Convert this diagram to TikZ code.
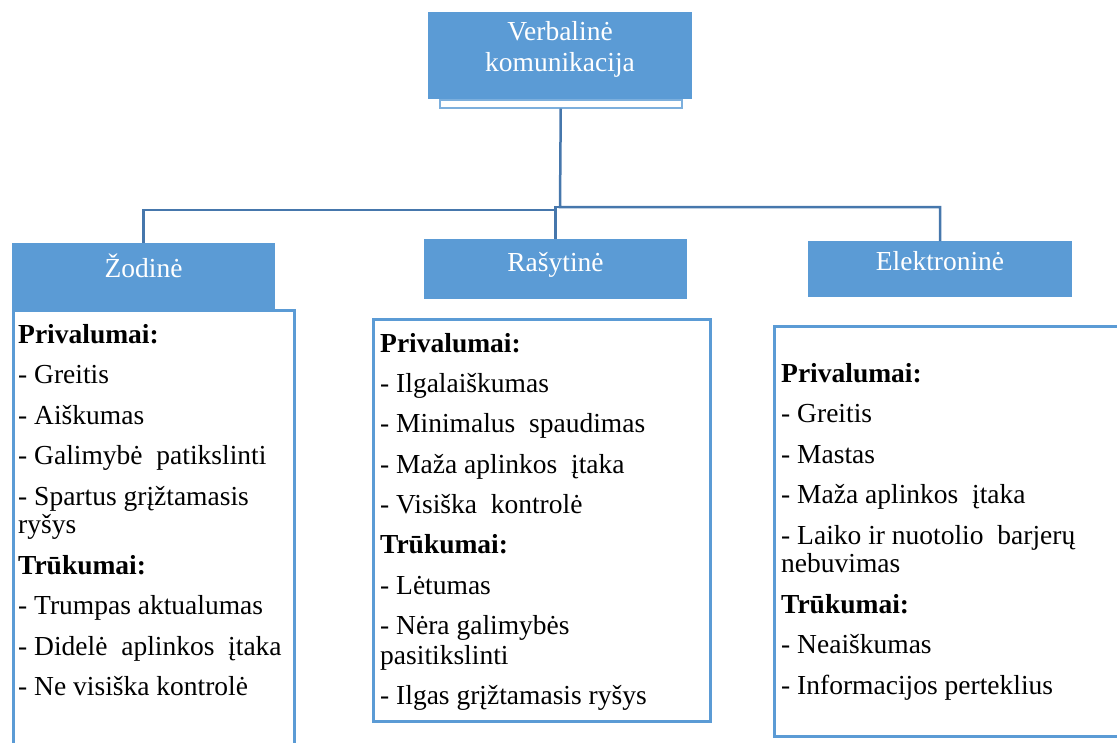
\documentclass[tikz,border=0pt]{standalone}
\usepackage{fontspec}
\setmainfont{Liberation Serif}
\definecolor{accent}{HTML}{5B9BD5}
\definecolor{connc}{HTML}{4677AC}
\tikzset{
  bluebox/.style={fill=accent, draw=none, inner sep=0pt, anchor=north west},
  stripbox/.style={fill=white, draw=accent!80, line width=1.5pt, inner sep=0pt, anchor=north west},
  textbox/.style={draw=accent, line width=2.5pt, inner sep=0pt, anchor=north west},
  title/.style={text=white, inner sep=0pt, font=\fontsize{27.5}{31}\selectfont},
  bodytext/.style={inner sep=0pt, anchor=north west, align=left},
  connector/.style={draw=connc, line width=2.5pt}
}
\begin{document}
\begin{tikzpicture}[x=1pt,y=-1pt]
\useasboundingbox (0,0) rectangle (1117,742);
\clip (0,0) rectangle (1117,742);

% top box
\node[bluebox, minimum width=264pt, minimum height=87pt] (top) at (428,12) {};
\node[stripbox, minimum width=242pt, minimum height=8pt] (strip) at (439,99) {};
\node[title, anchor=north, align=center] (toptext) at (560,16)
  {\rule{0pt}{24pt}Verbalinė\\komunikacija};

% category boxes
\node[bluebox, minimum width=263pt, minimum height=66pt] (zod) at (12,243) {};
\node[title, anchor=base] (zodt) at (143.5,277) {Žodinė};
\node[bluebox, minimum width=263pt, minimum height=60pt] (ras) at (424,239) {};
\node[title, anchor=base] (rast) at (555.5,271) {Rašytinė};
\node[bluebox, minimum width=264pt, minimum height=56pt] (ele) at (808,241) {};
\node[title, anchor=base] (elet) at (940,270) {Elektroninė};

% text boxes
\node[textbox, minimum width=281pt, minimum height=460pt] (zbox) at (12,309) {};
\node[textbox, minimum width=337pt, minimum height=402pt] (rbox) at (372,318) {};
\node[textbox, minimum width=380pt, minimum height=410pt] (ebox) at (773,325) {};

\node[bodytext, font=\fontsize{27.5}{28.5}\selectfont] (ztext) at (18,319) {%
\rule{0pt}{24pt}\textbf{Privalumai:}\\[12pt]
- Greitis\\[12pt]
- Aiškumas\\[12pt]
- Galimybė\ \ patikslinti\\[12pt]
- Spartus grįžtamasis\\
ryšys\\[12pt]
\textbf{Trūkumai:}\\[12pt]
- Trumpas aktualumas\\[12pt]
- Didelė\ \ aplinkos\ \ įtaka\\[12pt]
- Ne visiška kontrolė};

\node[bodytext, font=\fontsize{27.5}{30}\selectfont] (rtext) at (380,328) {%
\rule{0pt}{24pt}\textbf{Privalumai:}\\[10.3pt]
- Ilgalaiškumas\\[10.3pt]
- Minimalus\ \ spaudimas\\[10.3pt]
- Maža aplinkos\ \ įtaka\\[10.3pt]
- Visiška\ \ kontrolė\\[10.3pt]
\textbf{Trūkumai:}\\[10.3pt]
- Lėtumas\\[10.3pt]
- Nėra galimybės\\
pasitikslinti\\[10.3pt]
- Ilgas grįžtamasis ryšys};

\node[bodytext, font=\fontsize{27.5}{28.5}\selectfont] (etext) at (781,358) {%
\rule{0pt}{24pt}\textbf{Privalumai:}\\[12pt]
- Greitis\\[12pt]
- Mastas\\[12pt]
- Maža aplinkos\ \ įtaka\\[12pt]
- Laiko ir nuotolio\ \ barjerų\\
nebuvimas\\[12pt]
\textbf{Trūkumai:}\\[12pt]
- Neaiškumas\\[12pt]
- Informacijos perteklius};

% connectors
\coordinate (j1) at (560,207);
\coordinate (j2) at (555.5,210);
\draw[connector] (strip.south) -- (j1) -| (ele.north);
\draw[connector] (j1) -| (ras.north);
\draw[connector] (j2) -| (zod.north);
\end{tikzpicture}
\end{document}
